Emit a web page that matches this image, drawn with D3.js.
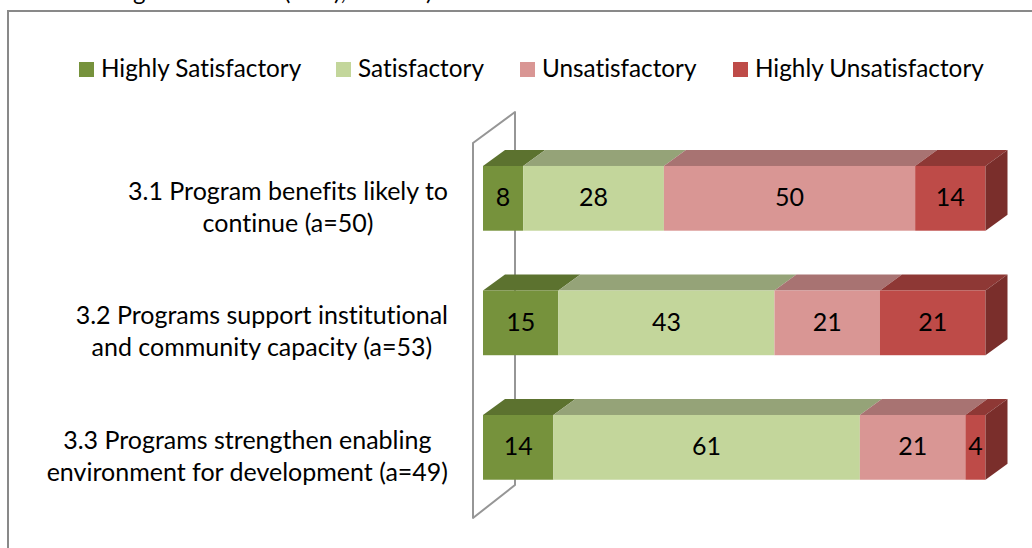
<!DOCTYPE html>
<html>
<head>
<meta charset="utf-8">
<script src="https://cdn.jsdelivr.net/npm/d3@7"></script>
<style>
html, body { margin: 0; padding: 0; background: #fff; overflow: hidden; }
svg { display: block; }
text { font-family: Lato, "Open Sans", sans-serif; fill: #000; font-variant-ligatures: none; }
</style>
</head>
<body>
<script>
var categories = [
	["3.1 Program benefits likely to", "continue (a=50)"],
	["3.2 Programs support institutional", "and community capacity (a=53)"],
	["3.3 Programs strengthen enabling", "environment for development (a=49)"]
];
var seriesNames = ["Highly Satisfactory", "Satisfactory", "Unsatisfactory", "Highly Unsatisfactory"];
var highlySatisfactory = [8, 15, 14];
var satisfactory = [28, 43, 61];
var unsatisfactory = [50, 21, 21];
var highlyUnsatisfactory = [14, 21, 4];
var frontColors = ["#76923c", "#c3d69b", "#d99694", "#be4b48"];
var topColors = ["#5c722f", "#95a378", "#a87372", "#8e3835"];
var sideColor = "#7a2e2b";
// the title sits above the crop, only its descenders show
var titleBits = [["g", 133], ["(", 284], ["),", 334], [")", 426]];

var width = 1032, height = 548;
var legendFont = 24.3;
var labelFont = 25;
var depthX = 22, depthY = 16;

var rows = categories.map(function(d, i) {
	return {
		index: i,
		s0: highlySatisfactory[i],
		s1: satisfactory[i],
		s2: unsatisfactory[i],
		s3: highlyUnsatisfactory[i]
	};
});
var stacked = d3.stack().keys(["s0", "s1", "s2", "s3"])(rows);

var x = d3.scaleLinear().domain([0, 100]).range([483, 985.5]);
var y = d3.scaleBand().domain(d3.range(categories.length)).range([106.2, 539.5]).padding(0.48);

var svg = d3.select("body").append("svg")
	.attr("width", width)
	.attr("height", height);

svg.selectAll(".titleBit")
	.data(titleBits)
	.enter().append("text")
	.attr("class", "titleBit")
	.attr("x", function(d) { return d[1]; })
	.attr("y", 0)
	.style("font-size", "24px")
	.text(function(d) { return d[0]; });

// outer frame runs off the right and bottom of the crop
svg.append("path")
	.attr("d", "M8,548V11H1032")
	.attr("fill", "none")
	.attr("stroke", "#898989")
	.attr("stroke-width", 2);

// legend
var legendSwatch = [79, 336, 520, 733];
var legend = svg.selectAll(".legend")
	.data(seriesNames)
	.enter().append("g")
	.attr("class", "legend");

legend.append("rect")
	.attr("x", function(d, i) { return legendSwatch[i]; })
	.attr("y", 62)
	.attr("width", 15)
	.attr("height", 15)
	.attr("fill", function(d, i) { return frontColors[i]; });

legend.append("text")
	.attr("x", function(d, i) { return legendSwatch[i] + 22; })
	.attr("y", 77)
	.style("font-size", legendFont + "px")
	.text(function(d) { return d; });

// back wall of the 3d category axis
svg.append("path")
	.attr("d", "M473,143L515,112V485L473,518Z")
	.attr("fill", "none")
	.attr("stroke", "#969696")
	.attr("stroke-width", 2)
	.attr("stroke-linejoin", "round");

function topFace(x0, x1, yTop) {
	return "M" + x0 + "," + yTop + "L" + (x0 + depthX) + "," + (yTop - depthY) +
		"H" + (x1 + depthX) + "L" + x1 + "," + yTop + "Z";
}

stacked.forEach(function(layer, k) {
	var g = svg.append("g").attr("class", "series");

	g.selectAll(".topFace")
		.data(layer)
		.enter().append("path")
		.attr("class", "topFace")
		.attr("d", function(d) { return topFace(x(d[0]), x(d[1]), y(d.data.index)); })
		.attr("fill", topColors[k]);

	g.selectAll(".front")
		.data(layer)
		.enter().append("rect")
		.attr("class", "front")
		.attr("x", function(d) { return x(d[0]); })
		.attr("y", function(d) { return y(d.data.index); })
		.attr("width", function(d) { return x(d[1]) - x(d[0]); })
		.attr("height", y.bandwidth())
		.attr("fill", frontColors[k]);

	if (k == stacked.length - 1) {
		g.selectAll(".side")
			.data(layer)
			.enter().append("path")
			.attr("class", "side")
			.attr("d", function(d) {
				var xr = x(d[1]), yt = y(d.data.index);
				return "M" + xr + "," + yt + "L" + (xr + depthX) + "," + (yt - depthY) +
					"V" + (yt - depthY + y.bandwidth()) + "L" + xr + "," + (yt + y.bandwidth()) + "Z";
			})
			.attr("fill", sideColor);
	}

	g.selectAll(".value")
		.data(layer)
		.enter().append("text")
		.attr("class", "value")
		.attr("x", function(d) { return (x(d[0]) + x(d[1])) / 2; })
		.attr("y", function(d) { return y(d.data.index) + y.bandwidth() / 2 + 8; })
		.attr("text-anchor", "middle")
		.style("font-size", labelFont + "px")
		.text(function(d) { return d[1] - d[0]; });
});

// category labels: widest line ends at the axis margin, the other is centred under it
var labelRight = 448;
var labelY = [[200, 232], [324, 356], [449, 481]];
var labels = svg.selectAll(".catLabel")
	.data(categories)
	.enter().append("g")
	.attr("class", "catLabel");

labels.each(function(d, i) {
	var g = d3.select(this);
	var lines = g.selectAll("text")
		.data(d)
		.enter().append("text")
		.attr("y", function(t, j) { return labelY[i][j]; })
		.attr("text-anchor", "middle")
		.style("font-size", labelFont + "px")
		.text(function(t) { return t; });
	var maxLen = d3.max(lines.nodes(), function(n) { return n.getComputedTextLength(); });
	lines.attr("x", labelRight - maxLen / 2);
});
</script>
</body>
</html>
